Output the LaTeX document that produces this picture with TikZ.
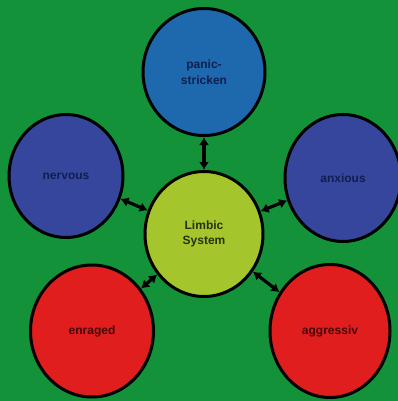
\documentclass[tikz,border=0pt]{standalone}
\usepackage{fontspec}
\setmainfont{Liberation Sans}
\usetikzlibrary{shapes.geometric,arrows.meta}
\definecolor{bggreen}{RGB}{20,146,58}
\definecolor{topblue}{RGB}{30,104,174}
\definecolor{indigo}{RGB}{54,70,156}
\definecolor{limegreen}{RGB}{164,198,44}
\definecolor{redfill}{RGB}{224,30,30}
\definecolor{navytext}{RGB}{16,30,80}
\definecolor{olivetext}{RGB}{40,48,12}
\definecolor{redtext}{RGB}{70,8,8}
\tikzset{
  bubble/.style={ellipse, draw=black, line width=3pt, inner sep=0pt,
    font=\fontsize{12}{15.5}\selectfont\bfseries, align=center},
  link/.style={line width=3.2pt, black, {Latex[length=8pt,width=10pt]}-{Latex[length=8pt,width=10pt]}}
}
\begin{document}
\begin{tikzpicture}[x=1pt,y=-1pt]
\fill[bggreen] (0,0) rectangle (398,401);
\useasboundingbox (0,0) rectangle (398,401);
\node[bubble, fill=topblue, text=navytext, minimum width=122pt, minimum height=127pt] (panic) at (204,72) {panic-\\stricken};
\node[bubble, fill=indigo, text=navytext, minimum width=114pt, minimum height=123pt] (nervous) at (66,176) {nervous};
\node[bubble, fill=indigo, text=navytext, minimum width=116pt, minimum height=127pt] (anxious) at (343,178) {anxious};
\node[bubble, fill=limegreen, text=olivetext, minimum width=118pt, minimum height=125pt] (limbic) at (204,234) {Limbic\\System};
\node[bubble, fill=redfill, text=redtext, minimum width=123pt, minimum height=132pt] (enraged) at (92,331) {enraged};
\node[bubble, fill=redfill, text=redtext, minimum width=120pt, minimum height=133pt] (aggressiv) at (330,331) {aggressiv};
\draw[link] (limbic) -- (panic);
\draw[link] (limbic) -- (nervous);
\draw[link] (limbic) -- (anxious);
\draw[link] (limbic) -- (enraged);
\draw[link] (limbic) -- (aggressiv);
\end{tikzpicture}
\end{document}
